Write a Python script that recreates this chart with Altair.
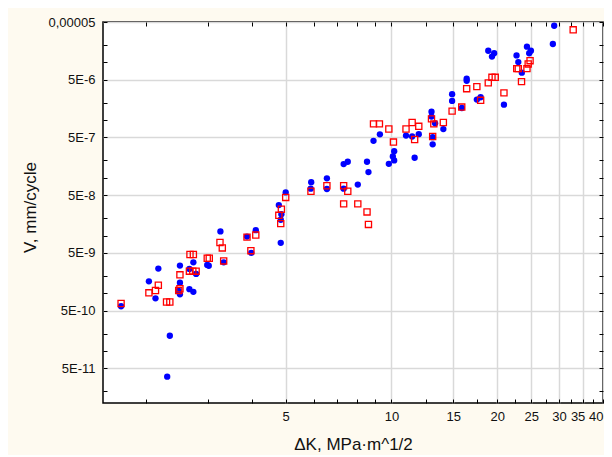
import altair as alt
import pandas as pd

# ---- data (ΔK, V) ----
blue_x = [1.70, 2.04, 2.13, 2.17, 2.34, 2.30, 2.50, 2.50, 2.50, 2.48,
          2.66, 2.73, 2.78, 2.66, 2.73, 2.99, 3.02, 3.26, 3.33, 3.88,
          3.99, 4.11, 4.84, 4.78, 4.86, 4.84, 5.00, 5.91, 5.89, 6.55,
          6.55, 7.31, 7.51, 7.31, 8.02, 8.52, 8.60, 9.27, 8.89, 9.83,
          10.18, 10.09, 10.18, 11.0, 11.45, 11.96, 11.64, 13.0, 13.0, 13.31,
          14.05, 13.1, 13.1, 14.88, 14.88, 15.86, 16.37, 16.37, 17.5, 17.94,
          20.9, 18.86, 19.6, 19.32, 24.3, 24.94, 24.66, 22.7, 22.96, 23.5,
          28.8, 29.05]
blue_y = [5.97e-10, 1.61e-9, 8.2e-10, 2.68e-9, 1.84e-10, 3.6e-11, 3.02e-9, 1.53e-9, 9.6e-10, 1.1e-9,
          2.65e-9, 3.44e-9, 2.17e-9, 1.18e-9, 1.06e-9, 3.1e-9, 3.0e-9, 1.18e-8, 3.44e-9, 9.6e-9,
          5.0e-9, 1.24e-8, 7.5e-9, 3.38e-8, 2.35e-8, 1.88e-8, 5.6e-8, 8.4e-8, 6.5e-8, 9.8e-8,
          6.4e-8, 1.73e-7, 1.9e-7, 6.5e-8, 7.65e-8, 1.9e-7, 1.26e-7, 5.67e-7, 4.38e-7, 1.75e-7,
          2.9e-7, 2.34e-7, 2.0e-7, 5.4e-7, 5.2e-7, 5.7e-7, 2.23e-7, 1.4e-6, 1.15e-6, 8.8e-7,
          6.98e-7, 5.07e-7, 3.8e-7, 2.81e-6, 2.15e-6, 1.62e-6, 5.2e-6, 4.8e-6, 2.27e-6, 2.49e-6,
          1.85e-6, 1.59e-5, 1.44e-5, 1.26e-5, 1.87e-5, 1.59e-5, 1.44e-5, 1.32e-5, 1.01e-5, 6.64e-6,
          2.08e-5, 4.3e-5]

red_x = [1.70, 2.04, 2.13, 2.17, 2.29, 2.34, 2.48, 2.50, 2.50, 2.67,
         2.73, 2.66, 2.72, 2.78, 2.99, 3.03, 3.25, 3.30, 3.33, 3.88,
         3.98, 4.11, 5.00, 4.86, 4.78, 4.84, 5.90, 6.55, 7.31, 7.51,
         7.31, 8.02, 8.52, 8.60, 8.89, 9.24, 9.83, 10.13, 11.0, 11.45,
         11.96, 11.64, 13.0, 13.2, 14.05, 13.1, 14.88, 15.85, 16.37, 17.5,
         17.94, 20.9, 18.86, 19.32, 19.74, 22.73, 22.96, 23.45, 24.3, 24.5,
         24.8, 32.9]
red_y = [6.65e-10, 1.02e-9, 1.12e-9, 1.38e-9, 7.06e-10, 7.06e-10, 1.12e-9, 1.2e-9, 2.09e-9, 4.7e-9,
         4.7e-9, 2.42e-9, 2.42e-9, 2.42e-9, 4.04e-9, 4.04e-9, 7.6e-9, 6.11e-9, 3.64e-9, 9.4e-9,
         5.48e-9, 1.02e-8, 4.58e-8, 2.86e-8, 2.24e-8, 1.61e-8, 5.86e-8, 7.3e-8, 7.3e-8, 5.86e-8,
         3.54e-8, 3.54e-8, 2.57e-8, 1.56e-8, 8.6e-7, 8.6e-7, 7.0e-7, 4.16e-7, 7.0e-7, 9.07e-7,
         7.8e-7, 4.61e-7, 1.05e-6, 8.6e-7, 9.07e-7, 5.2e-7, 1.43e-6, 1.68e-6, 3.5e-6, 3.8e-6,
         2.2e-6, 2.96e-6, 4.41e-6, 5.5e-6, 5.5e-6, 7.79e-6, 7.79e-6, 4.64e-6, 7.79e-6, 9.4e-6,
         1.07e-5, 3.66e-5]

# tick values
x_ticks = [2, 3, 4, 5, 6, 7, 8, 9, 10, 12.5, 15, 17.5, 20, 22.5, 25, 27.5, 30, 32.5, 35, 37.5, 40]
y_ticks = [2e-11, 5e-11, 1e-10, 2e-10, 5e-10, 1e-9, 2e-9, 5e-9, 1e-8, 2e-8, 5e-8,
           1e-7, 2e-7, 5e-7, 1e-6, 2e-6, 5e-6, 1e-5, 2e-5, 5e-5]

blue = pd.DataFrame({"dk": blue_x, "v": blue_y})
red = pd.DataFrame({"dk": red_x, "v": red_y})

FONT = "Liberation Sans"
xscale = alt.Scale(type="log", domain=[1.51, 40], nice=False)
yscale = alt.Scale(type="log", domain=[1.26e-11, 5e-5], nice=False)

x_major = "datum.value % 5 == 0"
y_major = "abs(log(datum.value/5)/LN10 - round(log(datum.value/5)/LN10)) < 0.01"

x_axis = alt.Axis(
    values=x_ticks, labelExpr=f"{x_major} ? format(datum.value, 'd') : ''",
    grid=True, gridColor="#d9d9d9", gridWidth=1.5,
    gridOpacity={"condition": {"test": f"!({x_major})", "value": 0}, "value": 1},
    tickSize=4, tickColor="black", tickWidth=1, offset=-4, domain=False,
    labelPadding=7, labelFont=FONT, labelFontSize=13, labelColor="#111111",
    labelFlush=False, labelOverlap=False,
    labelAlign={"condition": {"test": "datum.value == 40", "value": "right"}, "value": "center"},
    labelOffset={"condition": {"test": "datum.value == 35", "value": -5}, "value": 0},
    title="ΔK, MPa·m^1/2", titleFont=FONT, titleFontSize=17, titleFontWeight="normal",
    titleColor="#111111", titleX=250, titleY=50, titleBaseline="alphabetic", titleAlign="center",
)
y_axis = alt.Axis(
    values=y_ticks,
    labelExpr=f"{y_major} ? (datum.value > 1e-5 ? '0,00005' : '5E' + round(log(datum.value/5)/LN10)) : ''",
    grid=True, gridColor="#d9d9d9", gridWidth=1.5,
    gridOpacity={"condition": {"test": f"!({y_major})", "value": 0}, "value": 1},
    tickSize=4, tickColor="black", tickWidth=1, offset=-4, domain=False,
    labelPadding=8, labelFont=FONT, labelFontSize=13, labelColor="#111111",
    labelFlush=False, labelOverlap=False,
    title="V, mm/cycle", titleFont=FONT, titleFontSize=17, titleFontWeight="normal",
    titleColor="#111111", titleX=-77, titleY=185, titleBaseline="middle", titleAlign="center",
    titleAngle=270,
)
x_top = alt.Axis(values=x_ticks, labels=False, grid=False, domain=False, tickSize=4,
                 tickColor="black", offset=-4, title="")
y_right = alt.Axis(values=y_ticks, labels=False, grid=False, domain=False, tickSize=4,
                   tickColor="black", offset=-4, title="")

pts_blue = alt.Chart(blue).mark_circle(size=40, color="#0000ff", opacity=1).encode(
    x=alt.X("dk:Q", scale=xscale, axis=x_axis),
    y=alt.Y("v:Q", scale=yscale, axis=y_axis),
)
pts_red = alt.Chart(red).mark_square(size=38, filled=False, color="#ff0000",
                                     strokeWidth=1.3, opacity=1).encode(
    x=alt.X("dk:Q", scale=xscale, axis=x_top),
    y=alt.Y("v:Q", scale=yscale, axis=y_right),
)

chart = (
    alt.layer(pts_blue, pts_red)
    .resolve_axis(x="independent", y="independent")
    .properties(width=500, height=381,
                padding={"left": 95, "top": 14, "right": 1, "bottom": 52},
                autosize=alt.AutoSizeParams(type="none"))
    .configure(background="#fefaf0")
    .configure_view(fill="white", stroke="black", strokeWidth=1.5)
)

chart.save("out.html", embed_options={"renderer": "svg", "actions": False})
